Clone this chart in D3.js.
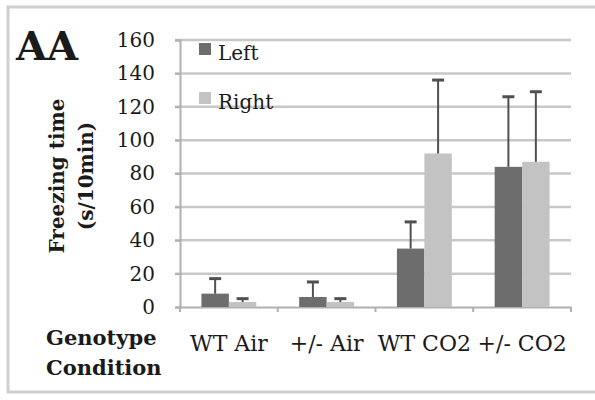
<!DOCTYPE html>
<html>
<head>
<meta charset="utf-8">
<script src="https://cdn.jsdelivr.net/npm/d3@7"></script>
<style>
  body { margin: 0; background: white; }
  text { font-family: "DejaVu Serif", serif; fill: #1a1a1a; }
</style>
</head>
<body>
<svg id="chart_svg" width="595" height="400"></svg>
<script>
var categories = ['WT Air', '+/- Air', 'WT CO2', '+/- CO2'];
var series = ['Left', 'Right'];
var left_means = [8, 6, 35, 84];
var left_errors = [9, 9, 16, 42];
var right_means = [3, 3, 92, 87];
var right_errors = [2, 2, 44, 42];
var y_ticks = [0, 20, 40, 60, 80, 100, 120, 140, 160];

var colours = { Left: '#6d6d6d', Right: '#c3c3c3' };

var svg = d3.select('#chart_svg');

/* frame round the whole figure */
svg.append('rect')
  .attr('x', 8).attr('y', 7).attr('width', 600).attr('height', 385)
  .style('fill', 'none').style('stroke', '#cfcfcf').style('stroke-width', 3);

var plot = { left: 180, right: 571, top: 40, bottom: 307 };

var x0 = d3.scaleBand().domain(categories).range([plot.left, plot.right]).padding(0);
var x1 = d3.scaleBand().domain(series).range([0, x0.bandwidth()]).paddingInner(0).paddingOuter(0.78);
var y = d3.scaleLinear().domain([0, 160]).range([plot.bottom, plot.top]);

/* gridlines */
svg.append('g').selectAll('line').data(y_ticks.slice(1)).enter().append('line')
  .attr('x1', plot.left - 5).attr('x2', plot.right)
  .attr('y1', d => y(d)).attr('y2', d => y(d))
  .style('stroke', '#c8c8c8').style('stroke-width', 2.5);

/* y axis */
var y_axis = svg.append('g')
  .attr('transform', 'translate(' + plot.left + ',0)')
  .call(d3.axisLeft(y).tickValues(y_ticks).tickSize(5).tickPadding(20));
y_axis.select('.domain').style('stroke', '#b0b0b0').style('stroke-width', 2);
y_axis.selectAll('.tick line').style('stroke', '#b0b0b0').style('stroke-width', 2);
y_axis.selectAll('.tick text').style('font-family', '"DejaVu Serif", serif').style('font-size', '20px').style('fill', '#1a1a1a');

/* x axis */
var x_axis = svg.append('g')
  .attr('transform', 'translate(0,' + plot.bottom + ')')
  .call(d3.axisBottom(x0).tickSize(0).tickPadding(28));
x_axis.select('.domain').style('stroke', '#b0b0b0').style('stroke-width', 2);
x_axis.selectAll('.tick text').style('font-family', '"DejaVu Serif", serif').style('font-size', '22px').style('fill', '#1a1a1a');
var bounds = categories.map(c => x0(c)).concat([plot.right]);
x_axis.selectAll('.bound').data(bounds).enter().append('line')
  .attr('x1', d => d).attr('x2', d => d).attr('y1', 0).attr('y2', 5)
  .style('stroke', '#b0b0b0').style('stroke-width', 2);

/* bars and error bars */
var rows = [];
categories.forEach((c, i) => {
  rows.push({ cat: c, s: 'Left', v: left_means[i], e: left_errors[i] });
  rows.push({ cat: c, s: 'Right', v: right_means[i], e: right_errors[i] });
});

var bars = svg.append('g');
bars.selectAll('rect').data(rows).enter().append('rect')
  .attr('x', d => x0(d.cat) + x1(d.s))
  .attr('y', d => y(d.v))
  .attr('width', x1.bandwidth())
  .attr('height', d => y(0) - y(d.v))
  .style('fill', d => colours[d.s]);

var err = svg.append('g');
err.selectAll('line.stem').data(rows).enter().append('line')
  .attr('class', 'stem')
  .attr('x1', d => x0(d.cat) + x1(d.s) + x1.bandwidth() / 2)
  .attr('x2', d => x0(d.cat) + x1(d.s) + x1.bandwidth() / 2)
  .attr('y1', d => y(d.v)).attr('y2', d => y(d.v + d.e))
  .style('stroke', '#505050').style('stroke-width', 2);
err.selectAll('line.cap').data(rows).enter().append('line')
  .attr('class', 'cap')
  .attr('x1', d => x0(d.cat) + x1(d.s) + x1.bandwidth() / 2 - 6)
  .attr('x2', d => x0(d.cat) + x1(d.s) + x1.bandwidth() / 2 + 6)
  .attr('y1', d => y(d.v + d.e)).attr('y2', d => y(d.v + d.e))
  .style('stroke', '#505050').style('stroke-width', 3);

/* legend */
var legend = svg.append('g');
series.forEach((s, i) => {
  var ly = 43 + i * 49;
  legend.append('rect').attr('x', 199).attr('y', ly).attr('width', 12).attr('height', 12)
    .style('fill', colours[s]);
  legend.append('text').attr('x', 218).attr('y', ly + 17).style('font-size', '20px').text(s);
});

/* panel letter and axis titles */
svg.append('text').attr('x', 16).attr('y', 60)
  .style('font-size', '40px').style('font-weight', 'bold').text('AA');

var y_title = svg.append('text')
  .attr('transform', 'translate(64,176) rotate(-90)')
  .style('text-anchor', 'middle').style('font-size', '20px').style('font-weight', 'bold');
y_title.append('tspan').attr('x', 0).attr('y', 0).text('Freezing time');
y_title.append('tspan').attr('x', 0).attr('y', 29).text('(s/10min)');

svg.append('text').attr('x', 46).attr('y', 345)
  .style('font-size', '21px').style('font-weight', 'bold').text('Genotype');
svg.append('text').attr('x', 46).attr('y', 375)
  .style('font-size', '21px').style('font-weight', 'bold').text('Condition');
</script>
</body>
</html>
